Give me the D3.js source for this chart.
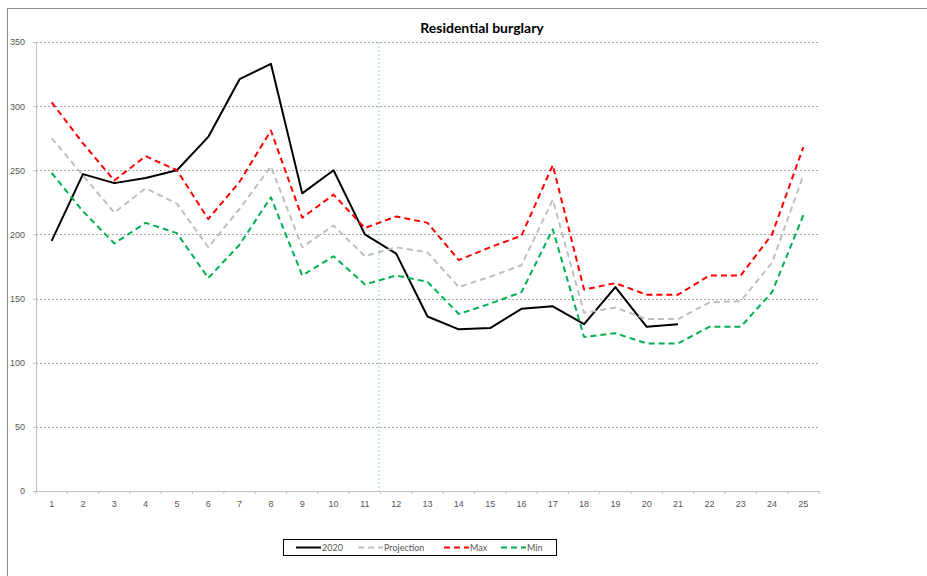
<!DOCTYPE html>
<html>
<head>
<meta charset="utf-8">
<script src="https://cdn.jsdelivr.net/npm/d3@7"></script>
<style>
  body { margin: 0; background: #fff; }
  svg { display: block; font-family: Lato, "Open Sans", sans-serif; }
  .tick text { fill: #555; font-size: 9px; }
</style>
</head>
<body>
<svg id="chart" width="927" height="576"></svg>
<script>
const weeks = d3.range(1, 26);
const yTicks = [0, 50, 100, 150, 200, 250, 300, 350];

const actual2020 = [195, 247, 240, 244, 250, 276, 321, 333, 232, 250, 200, 185, 136, 126, 127, 142, 144, 130, 159, 128, 130];
const projection = [275, 246, 217, 236, 224, 190, 220, 253, 190, 207, 183, 190, 186, 159, 167, 176, 227, 139, 143, 134, 134, 147, 148, 178, 246];
const maxVals = [303, 271, 242, 261, 250, 212, 241, 281, 213, 231, 205, 214, 209, 180, 190, 199, 254, 157, 162, 153, 153, 168, 168, 200, 268];
const minVals = [248, 218, 193, 209, 201, 166, 192, 229, 168, 183, 161, 168, 163, 138, 146, 155, 204, 120, 123, 115, 115, 128, 128, 155, 215];

const series = [
  { name: "2020", values: actual2020, color: "#000", dash: null },
  { name: "Projection", values: projection, color: "#bfbfbf", dash: "6,4" },
  { name: "Max", values: maxVals, color: "#ff0000", dash: "6,4" },
  { name: "Min", values: minVals, color: "#00b050", dash: "6,4" }
];

const svg = d3.select("#chart");

// outer chart frame (only left and top edges visible)
svg.append("rect")
  .attr("x", 7.5).attr("y", 8.5)
  .attr("width", 940).attr("height", 600)
  .attr("fill", "none").attr("stroke", "#8c8c8c");

const plotL = 36, plotR = 819, plotT = 42, plotB = 491;

const x = d3.scaleBand().domain(weeks).range([plotL, plotR]);
const cx = d => x(d) + x.bandwidth() / 2;
const y = d3.scaleLinear().domain([0, 350]).range([plotB, plotT]);

// gridlines
svg.append("g")
  .selectAll("line")
  .data(yTicks.filter(d => d > 0))
  .enter().append("line")
  .attr("x1", plotL).attr("x2", plotR + 1)
  .attr("y1", d => Math.round(y(d)) + 0.5)
  .attr("y2", d => Math.round(y(d)) + 0.5)
  .attr("stroke", "#a6a6a6")
  .attr("stroke-dasharray", "2,2");

// dotted marker between week 11 and 12
svg.append("line")
  .attr("x1", x(12) - 1.5).attr("x2", x(12) - 1.5)
  .attr("y1", plotT).attr("y2", plotB)
  .attr("stroke", "#9fd3ea")
  .attr("stroke-dasharray", "2,2");

// y axis
const yAxis = svg.append("g")
  .attr("transform", `translate(${plotL},0)`)
  .call(d3.axisLeft(y).tickValues(yTicks).tickSize(3).tickPadding(8));
yAxis.select(".domain").attr("stroke", "#bfbfbf");
yAxis.selectAll(".tick line").attr("stroke", "#bfbfbf");

// x axis: labels at centres, ticks at boundaries
const xAxis = svg.append("g")
  .attr("transform", `translate(0,${plotB})`)
  .call(d3.axisBottom(x).tickSize(0).tickPadding(10));
xAxis.select(".domain").attr("stroke", "#bfbfbf");

svg.append("g")
  .selectAll("line")
  .data(weeks.concat([26]))
  .enter().append("line")
  .attr("x1", d => d === 26 ? plotR : x(d))
  .attr("x2", d => d === 26 ? plotR : x(d))
  .attr("y1", plotB).attr("y2", plotB + 3)
  .attr("stroke", "#bfbfbf");

// lines
const line = d3.line()
  .x((d, i) => cx(weeks[i]))
  .y(d => y(d));

series.forEach(s => {
  svg.append("path")
    .datum(s.values)
    .attr("fill", "none")
    .attr("stroke", s.color)
    .attr("stroke-width", 2)
    .attr("stroke-linejoin", "round")
    .attr("stroke-dasharray", s.dash)
    .attr("d", line);
});

// title
svg.append("text")
  .attr("x", 482).attr("y", 33)
  .attr("text-anchor", "middle")
  .attr("font-size", "14px")
  .attr("font-weight", "bold")
  .text("Residential burglary");

// legend
const legend = svg.append("g");
legend.append("rect")
  .attr("x", 283.5).attr("y", 539.5)
  .attr("width", 273).attr("height", 16)
  .attr("fill", "#fff").attr("stroke", "#000");

const legendX = [296, 358, 444, 501];
series.forEach((s, i) => {
  const item = legend.append("g").attr("transform", `translate(${legendX[i]},547.5)`);
  item.append("line")
    .attr("x1", 0).attr("x2", 25)
    .attr("stroke", s.color)
    .attr("stroke-width", 2)
    .attr("stroke-dasharray", s.dash);
  item.append("text")
    .attr("x", 26).attr("y", 3)
    .attr("font-size", "9px")
    .attr("fill", "#555")
    .text(s.name);
});
</script>
</body>
</html>
